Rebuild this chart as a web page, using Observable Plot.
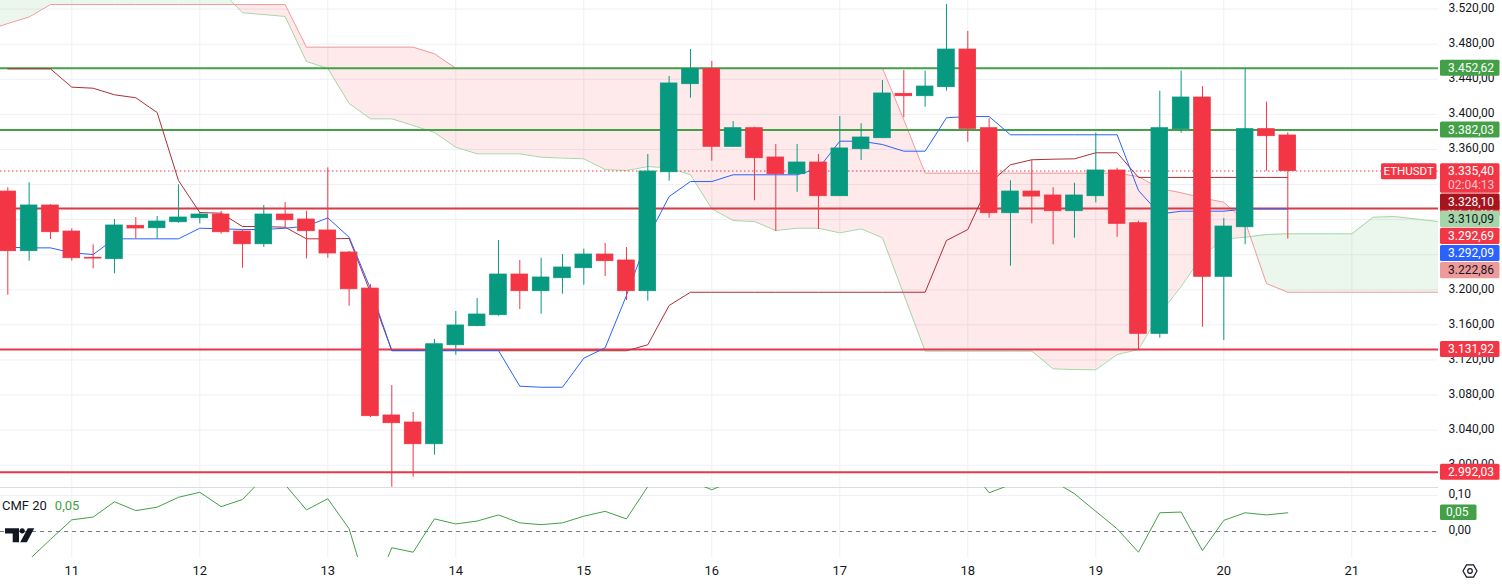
<!DOCTYPE html>
<html><head><meta charset="utf-8">
<script src="https://cdn.jsdelivr.net/npm/d3@7"></script>
<script src="https://cdn.jsdelivr.net/npm/@observablehq/plot@0.6"></script>
<style>
html,body{margin:0;padding:0;background:#fff;}
#chart{position:relative;width:1502px;height:584px;overflow:hidden;font-family:Roboto,sans-serif;background:#fff;}
#chart svg{position:absolute;left:0;overflow:visible;}
</style></head><body><div id="chart"></div>
<script>
// ---------- data ----------
const dayTicks  = [3, 9, 15, 21, 27, 33, 39, 45, 51, 57, 63];
const dayLabels = ["11","12","13","14","15","16","17","18","19","20","21"];
const priceTicks = d3.range(3000, 3521, 40);
const cmfTicks = [0, 0.1];

const opens = [3312.0,3244.0,3296.1,3266.4,3236.5,3234.9,3272.9,3270.2,3277.0,3281.6,
 3285.8,3266.4,3251.9,3285.8,3280.1,3267.6,3242.5,3201.4,3056.7,3048.7,
 3023.9,3136.8,3158.5,3171.0,3217.4,3198.4,3213.2,3224.6,3240.2,3233.4,
 3198.4,3334.0,3434.4,3451.5,3363.0,3384.2,3350.8,3331.8,3345.1,3306.7,
 3360.3,3372.8,3423.4,3420.7,3431.0,3473.9,3384.2,3287.3,3312.0,3307.5,
 3289.6,3306.7,3336.0,3275.9,3149.8,3383.1,3419.2,3214.8,3271.3,3383.1,
 3375.9];
const highs = [3316.3,3322.0,3297.0,3269.5,3251.3,3280.1,3282.4,3283.5,3319.7,3288.1,
 3289.6,3267.6,3296.1,3299.5,3289.6,3339.0,3243.6,3206.0,3090.9,3060.1,
 3143.3,3175.2,3190.0,3256.2,3233.4,3236.0,3240.2,3246.3,3252.8,3248.2,
 3354.2,3443.2,3473.9,3460.3,3391.8,3385.3,3365.6,3365.6,3354.2,3397.5,
 3389.2,3438.6,3450.0,3449.2,3525.2,3494.5,3394.9,3324.2,3348.2,3316.3,
 3321.5,3378.5,3338.6,3278.2,3426.4,3449.2,3431.7,3281.3,3452.6,3413.9,
 3379.0];
const lows = [3193.8,3232.6,3257.3,3232.6,3223.9,3218.2,3258.1,3258.1,3275.9,3275.2,
 3263.4,3224.6,3248.2,3269.9,3235.3,3236.0,3181.3,3054.4,2974.9,2986.3,
 3011.4,3125.4,3158.0,3169.9,3177.5,3172.1,3195.0,3205.2,3215.1,3187.8,
 3187.0,3323.8,3418.4,3346.6,3362.2,3301.4,3266.4,3311.2,3268.7,3306.3,
 3347.4,3372.5,3396.1,3408.2,3426.4,3368.2,3281.6,3226.9,3275.2,3251.3,
 3258.8,3299.2,3259.9,3131.9,3144.8,3378.5,3157.3,3142.2,3251.3,3335.2,
 3257.7];
const closes = [3244.0,3296.1,3265.6,3236.0,3235.6,3273.3,3269.9,3277.8,3282.4,3285.8,
 3265.6,3251.9,3285.8,3279.3,3266.8,3241.4,3200.6,3055.9,3047.9,3023.9,
 3137.9,3159.3,3171.8,3217.4,3198.4,3214.0,3225.4,3240.2,3232.6,3198.4,
 3334.8,3435.2,3451.5,3363.0,3384.2,3350.0,3331.8,3345.1,3306.7,3361.1,
 3373.6,3423.8,3420.7,3431.7,3473.9,3383.5,3287.3,3312.0,3306.3,3289.6,
 3307.5,3336.0,3275.2,3149.8,3384.2,3419.2,3214.8,3272.1,3383.1,3375.1,
 3335.4];

const tenkan = [3248.5,3247.8,3247.8,3242.1,3240.2,3258.1,3258.1,3258.1,3258.1,3270.2,
 3269.5,3268.7,3268.7,3270.2,3272.5,3282.0,3259.9,3201.4,3130.8,3130.8,
 3130.8,3130.8,3130.8,3130.8,3090.1,3088.9,3088.9,3122.0,3133.8,3193.5,
 3259.6,3306.3,3323.4,3323.4,3331.1,3331.1,3331.1,3331.1,3338.3,3369.4,
 3369.4,3365.6,3358.0,3358.0,3396.1,3397.5,3397.5,3376.7,3376.7,3376.7,
 3376.7,3376.7,3376.7,3313.2,3286.4,3289.6,3289.6,3289.6,3292.1,3292.1,
 3292.09];
const kijun = [3451.9,3451.9,3451.9,3431.0,3429.8,3422.3,3418.9,3402.1,3324.6,3288.1,
 3287.3,3272.1,3272.1,3271.3,3258.1,3258.1,3258.5,3196.9,3130.5,3130.5,
 3130.5,3130.5,3130.5,3130.5,3130.5,3130.5,3130.5,3130.5,3130.5,3130.5,
 3137.3,3182.1,3197.2,3197.2,3197.2,3197.2,3197.2,3197.2,3197.2,3197.2,
 3197.2,3197.2,3197.2,3197.2,3256.2,3268.7,3321.2,3342.5,3348.2,3348.9,
 3349.3,3356.2,3356.2,3328.1,3328.1,3328.1,3328.1,3328.1,3328.1,3328.1,
 3328.1];

const spanStart = -1; // leading spans start one bar before the first candle
const spanA = [3550,3550,3550,3550,3550,3550,3550,3550,3550,3550,3550,3541.0,
 3515.8,3513.8,3511.6,3460.3,3452.3,3412.4,3394.9,3394.9,3387.3,3379.3,
 3362.5,3355.0,3355.0,3355.0,3351.1,3350.2,3349.3,3337.1,3336.0,3340.5,
 3339.0,3331.1,3292.3,3279.0,3277.8,3267.6,3270.2,3270.2,3264.9,3269.5,
 3259.3,3194.6,3130.0,3130.0,3130.0,3130.0,3130.0,3130.0,3109.9,3109.1,
 3108.8,3126.2,3131.9,3172.9,3203.7,3239.1,3257.9,3259.9,3263.0,3263.8,
 3263.8,3263.8,3263.8,3282.7,3283.5,3280.7,3277.8,3275.6];
const spanB = [3495.6,3503.6,3511.0,3525.2,3525.2,3525.2,3525.2,3525.2,3525.2,3525.2,
 3525.2,3525.2,3525.2,3525.2,3525.2,3476.6,3476.6,3476.6,3476.6,3476.6,
 3476.6,3469.0,3452.6,3452.6,3452.6,3452.6,3452.6,3452.6,3452.6,3452.6,
 3452.6,3452.6,3452.6,3452.6,3452.6,3452.6,3452.6,3452.6,3452.6,3452.6,
 3452.6,3452.6,3452.6,3393.8,3332.9,3332.9,3332.9,3332.9,3332.9,3332.9,
 3332.9,3332.9,3332.9,3332.9,3329.1,3315.5,3310.6,3304.6,3299.8,3277.8,
 3207.1,3197.2,3197.2,3197.2,3197.2,3197.2,3197.2,3197.2,3197.2,3197.2];

const cmf = [-0.14,-0.078,-0.022,0.0325,0.040,0.0825,0.058,0.0675,0.095,0.109,
 0.069,0.089,0.15,0.13,0.060,0.091,0.0075,-0.19,-0.045,-0.0575,
 0.035,0.021,0.029,0.046,0.024,0.019,0.024,0.0425,0.056,0.035,
 0.125,0.18,0.14,0.116,0.14,0.19,0.20,0.21,0.20,0.20,
 0.21,0.22,0.21,0.20,0.22,0.185,0.1075,0.13,0.15,0.14,
 0.105,0.056,0.0075,-0.0575,0.052,0.054,-0.053,0.031,0.052,0.046,
 0.052];

const levels = [3452.62, 3382.03, 3292.69, 3131.92, 2992.03];
const lastPrice = 3335.40;
const symbol = "ETHUSDT";
const countdown = "02:04:13";
const stackValues = [3328.10, 3310.09, 3292.69, 3292.09, 3222.86];
const cmfLabel = "CMF 20";

// ---------- styles ----------
const UP = "#089981", DN = "#f23645";
const GRID = "#eef0f4";
const TXT = "#131722";
const FONT = "Roboto, sans-serif";
const levelStroke = ["#43a047", "#43a047", "#d83a46", "#e8374a", "#e8374a"];
const levelFill = ["#43a047", "#43a047", "#f23645", "#f23645", "#f23645"];
const stackBg = ["#a8141e", "#a5d6a7", "#f23645", "#2962ff", "#ef9a9a"];
const stackFg = ["#ffffff", TXT, "#ffffff", "#ffffff", TXT];

const loc = d3.formatLocale({decimal: ",", thousands: ".", grouping: [3], currency: ["", ""]});
const fmt = loc.format(",.2f");
const f2 = loc.format(".2f");

// ---------- derived tables ----------
const candles = opens.map((o, i) => ({i, o, h: highs[i], l: lows[i], c: closes[i],
  col: closes[i] >= o ? UP : DN, tenkan: tenkan[i], kijun: kijun[i], cmf: cmf[i]}));
const spans = spanA.map((a, k) => ({i: k + spanStart, a, b: spanB[k]}));
// add crossing points so the cloud fill switches colour where the spans cross
const fillPts = [];
for (let k = 0; k < spans.length; k++) {
  const p = spans[k];
  fillPts.push(p);
  const q = spans[k + 1];
  if (q) {
    const d0 = p.a - p.b, d1 = q.a - q.b;
    if (d0 * d1 < 0) {
      const t = d0 / (d0 - d1);
      const v = p.a + t * (q.a - p.a);
      fillPts.push({i: p.i + t * (q.i - p.i), a: v, b: v});
    }
  }
}

const W = 1502, MR = 64, plotRight = W - MR;
const step = 128 / 6, x0 = 7.3;
const xDomain = [(0 - x0) / step, (plotRight - x0) / step];
const PH = 487;
const yDomain = [2974.6, 3529.8];

// price-scale label boxes (computed with Plot's own scale so axis labels hidden behind them can be skipped)
const yS = Plot.scale({y: {domain: yDomain, range: [PH, 0]}});
const boxes = [];
levels.forEach((v, i) => boxes.push({top: yS.apply(v) - 8, h: 16, bg: levelFill[i], fg: "#fff", text: fmt(v)}));
const pTop = yS.apply(lastPrice) - 7.2, pH = 29.4;
boxes.push({top: pTop, h: pH, price: true});
let prevBottom = pTop + pH;
stackValues.forEach((v, i) => {
  const h = 16.2;
  const top = Math.max(yS.apply(v) - 8.1, prevBottom + 0.9);
  boxes.push({top, h, bg: stackBg[i], fg: stackFg[i], text: fmt(v)});
  prevBottom = top + h;
});
const axisTicks = priceTicks.filter(t => {
  const y = yS.apply(t) - 1;
  return !boxes.some(b => b.top <= y - 5 && b.top + b.h >= y + 5);
});

const root = document.getElementById("chart");

// ---------- price panel ----------
const price = Plot.plot({
  width: W, height: PH, marginLeft: 0, marginRight: MR, marginTop: 0, marginBottom: 0,
  x: {domain: xDomain, axis: null},
  y: {domain: yDomain},
  color: {type: "identity"},
  style: {fontFamily: FONT, fontSize: "12px", color: TXT, background: "transparent", overflow: "visible"},
  marks: [
    Plot.ruleX(dayTicks, {x: d => d, stroke: GRID}),
    Plot.ruleY(priceTicks, {y: d => d, stroke: GRID}),
    Plot.areaY(fillPts, {x: "i", y1: "b", y2: d => Math.max(d.a, d.b), fill: "rgba(76,175,80,0.11)", clip: true}),
    Plot.areaY(fillPts, {x: "i", y1: "a", y2: d => Math.max(d.a, d.b), fill: "rgba(242,54,69,0.11)", clip: true}),
    Plot.line(spans, {x: "i", y: "a", stroke: "#a5d6a7", strokeWidth: 1, clip: true}),
    Plot.line(spans, {x: "i", y: "b", stroke: "#ef9a9a", strokeWidth: 1, clip: true}),
    Plot.ruleY(levels, {y: d => d, stroke: (d, i) => levelStroke[i], strokeWidth: 2}),
    Plot.ruleY([lastPrice], {y: d => d, stroke: "#f23645", strokeWidth: 1, strokeDasharray: "1.5,2.5"}),
    Plot.line(candles, {x: "i", y: "kijun", stroke: "#ad2f37", strokeWidth: 1, clip: true}),
    Plot.line(candles, {x: "i", y: "tenkan", stroke: "#2962ff", strokeWidth: 1, clip: true}),
    Plot.ruleX(candles, {x: "i", y1: "l", y2: "h", stroke: "col", strokeWidth: 1, clip: true}),
    Plot.rect(candles, {x1: d => d.i - 0.39, x2: d => d.i + 0.39, y1: "o", y2: "c", fill: "col", stroke: "col", strokeWidth: 0.8, clip: true}),
    Plot.axisY(axisTicks, {anchor: "right", tickSize: 0, tickPadding: 10, tickFormat: fmt, label: null, fontSize: 12, dy: -1})
  ]
});
price.style.top = "0px";
root.appendChild(price);

const ps = d3.select(price);
const labX = plotRight + 2, labW = 59.5, textX = plotRight + 10;

function addText(sel, x, y, text, fill, size, anchor) {
  return sel.append("text").attr("x", x).attr("y", y).attr("dy", "0.35em")
    .attr("text-anchor", anchor || "start").attr("fill", fill)
    .attr("font-size", size).attr("font-family", FONT).text(text);
}

boxes.forEach(b => {
  const g = ps.append("g");
  g.append("rect").attr("x", labX).attr("y", b.top).attr("width", labW).attr("height", b.h).attr("rx", 1.5)
    .attr("fill", b.price ? "#f23645" : b.bg);
  if (b.price) {
    addText(g, textX, b.top + 7.8, fmt(lastPrice), "#fff", 12);
    addText(g, textX, b.top + 21.2, countdown, "#ffc4c9", 12);
    g.append("rect").attr("x", 1381).attr("y", b.top).attr("width", 55.5).attr("height", 16).attr("rx", 1.5).attr("fill", "#f23645");
    addText(g, 1408.7, b.top + 8, symbol, "#fff", 11.5, "middle");
  } else {
    addText(g, textX, b.top + b.h / 2, b.text, b.fg, 12);
  }
});

// ---------- CMF panel ----------
const CH = 97;
const cmfPlot = Plot.plot({
  width: W, height: CH, marginLeft: 0, marginRight: MR, marginTop: 0, marginBottom: 27,
  x: {domain: xDomain},
  y: {domain: [-0.0722, 0.1222]},
  color: {type: "identity"},
  style: {fontFamily: FONT, fontSize: "12px", color: TXT, background: "transparent", overflow: "visible"},
  marks: [
    Plot.ruleX(dayTicks, {x: d => d, stroke: GRID}),
    Plot.ruleY([0.1], {y: d => d, stroke: GRID}),
    Plot.ruleY([0.1222], {y: d => d, stroke: "#dadde3"}),
    Plot.ruleY([0], {y: d => d, stroke: "#787b86", strokeDasharray: "4,4"}),
    Plot.line(candles, {x: "i", y: "cmf", stroke: "#43a047", strokeWidth: 1, clip: true}),
    Plot.axisY(cmfTicks, {anchor: "right", tickSize: 0, tickPadding: 10, tickFormat: f2, label: null, fontSize: 12, dy: -1}),
    Plot.axisX(dayTicks, {anchor: "bottom", tickSize: 0, tickPadding: 8, tickFormat: d => dayLabels[dayTicks.indexOf(d)], label: null, fontSize: 13})
  ]
});
cmfPlot.style.top = PH + "px";
root.appendChild(cmfPlot);

const cy = cmfPlot.scale("y");
const cs = d3.select(cmfPlot);
const lastCmf = cmf[cmf.length - 1];
{
  const yc = cy.apply(lastCmf);
  cs.append("rect").attr("x", labX).attr("y", yc - 7.7).attr("width", 36.5).attr("height", 15.4).attr("rx", 1.5).attr("fill", "#43a047");
  addText(cs, textX - 2, yc, f2(lastCmf), "#fff", 12);
  const hdr = cs.append("text").attr("x", 2).attr("y", 18).attr("dy", "0.35em").attr("text-anchor", "start")
    .attr("font-size", 13).attr("font-family", FONT);
  hdr.append("tspan").attr("fill", TXT).text(cmfLabel);
  hdr.append("tspan").attr("fill", "#43a047").attr("dx", 8).text(f2(lastCmf));
  // logo
  const lg = cs.append("g").attr("fill", "#131722");
  lg.append("path").attr("d", "M5,41.3 H19 V55.3 H12.7 V46.6 H5 Z");
  lg.append("circle").attr("cx", 22.2).attr("cy", 43.8).attr("r", 2.6);
  lg.append("path").attr("d", "M20.2,55.3 H26.8 L34.3,41.3 H27.7 Z");
  // settings icon
  const gx = 1470, gy = 84;
  const hex = d3.range(6).map(k => { const a = Math.PI / 3 * k; return [gx + 7 * Math.cos(a), gy + 7 * Math.sin(a)]; });
  cs.append("path").attr("d", "M" + hex.map(p => p.join(",")).join("L") + "Z").attr("fill", "none").attr("stroke", TXT).attr("stroke-width", 1.2);
  cs.append("circle").attr("cx", gx).attr("cy", gy).attr("r", 2.3).attr("fill", "none").attr("stroke", TXT).attr("stroke-width", 1.2);
}
</script></body></html>
